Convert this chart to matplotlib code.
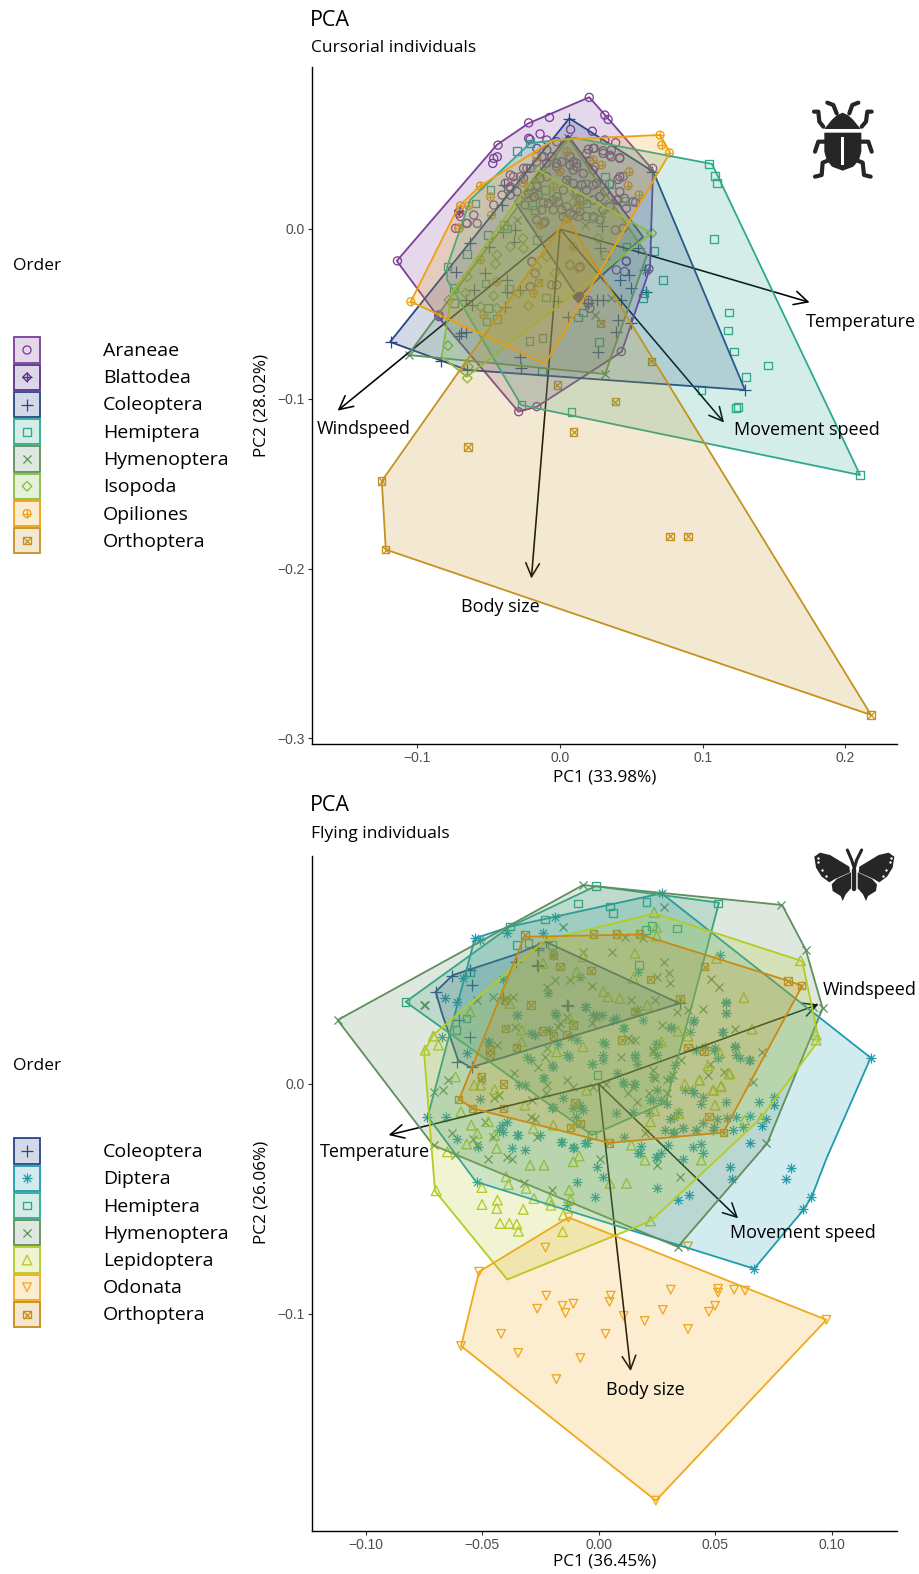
import numpy as np
import matplotlib
matplotlib.use("Agg")
import matplotlib.pyplot as plt
from matplotlib.patches import Polygon, Rectangle

TEXT_FONT = ["Open Sans", "DejaVu Sans"]
TICK_FONT = ["Liberation Sans", "DejaVu Sans"]
UNIT = 0.01  # all PC scores below are written in hundredths

# ---------- colours ----------
COL = {
    "Araneae": "#7B3F98", "Blattodea": "#55308D", "Coleoptera": "#27458A",
    "Hemiptera": "#2FA98C", "Hymenoptera": "#5E8F5E", "Isopoda": "#86BC43",
    "Opiliones": "#EFA00F", "Orthoptera": "#C4921F",
    "Diptera": "#1E9BAE", "Lepidoptera": "#B4CC22", "Odonata": "#F0A91C",
    "OrthopteraF": "#C98A14",
}

# ---------- CURSORIAL: hull vertices ----------
c_hull_araneae = [(2.05,7.76),(3.16,6.71),(6.52,3.47),(6.31,-2.30),(4.33,-7.23),(-1.63,-10.47),(-2.92,-10.76),(-8.56,-5.16),(-11.45,-1.88),(-4.44,4.95),(-2.22,6.22)]
c_hull_blattodea = [(0.56,5.50),(-3.16,1.59),(1.26,-4.06),(5.82,-0.47)]
c_hull_coleoptera = [(0.65,6.52),(6.54,3.37),(12.97,-9.48),(-6.54,-8.30),(-11.92,-6.65)]
c_hull_hemiptera = [(-2.10,5.05),(1.05,5.36),(10.66,3.83),(21.04,-14.49),(-2.73,-10.37),(-7.92,-3.00),(-7.92,-2.22),(-6.31,1.71)]
c_hull_hymenoptera = [(0.58,5.34),(6.10,-1.53),(3.16,-8.54),(-10.66,-7.42)]
c_hull_isopoda = [(-1.52,3.47),(6.43,-0.25),(-6.54,-8.70),(-8.30,-7.52),(-7.59,-3.77)]
c_hull_opiliones = [(7.01,5.54),(7.71,4.49),(-1.05,-7.95),(-10.47,-4.28),(-7.13,1.31),(-5.61,2.53),(-0.47,5.24)]
c_hull_orthoptera = [(0.47,0.63),(21.81,-28.62),(-12.22,-18.88),(-12.50,-14.84)]

# ---------- CURSORIAL: points ----------
c_araneae = [(2.05,7.75),(3.14,6.71),(3.37,6.45),(-.74,6.57),(-2.2,6.25),(-1.4,5.6),(-2.1,5.27),(-4.35,4.94),(-4.4,4.25),(-4.65,4.16),(-4.72,3.86),(.74,5.86),(2.26,5.76),(3.14,5.24),(3.9,5.08),(1.98,4.69),(2.4,4.75),(3.02,4.6),(3.6,4.25),(4.18,4.2),(6.5,3.57),(4.42,3.08),(4.07,2.92),(3.49,2.65),(2.33,2.59),(2.44,3.67),(1.16,3.67),(.7,3.76),(-.23,3.86),(-1.16,4.25),(-2.33,3.57),(-3.26,3.08),(-2.56,2.98),(-3.49,2.39),(-1.63,2.49),(-2.2,2.1),(-1.74,1.9),(-.81,1.51),(-.23,1.9),(.23,2.29),(1.16,2.2),(-.12,1.61),(.47,1.31),(-1.16,.33),(.93,.82),(1.4,1.02),(1.86,.73),(3.88,-.06),(4.42,.04),(5.3,1.57),(4.53,1.8),(3.95,1.7),(-5.81,.33),(-6.51,.33),(-7.33,.04),(-7.09,.04),(-7.1,.92),(-6.98,.73),(-11.4,-1.88),(-2.9,-10.76),(-1.63,-10.46),(4.3,-7.22),(6.23,-2.35),(4.65,-1.88),(3.95,-2.41),(1.4,-2.26),(-1.98,-1.92),(-2.09,-3.4),(1.98,-4.38),(1.35,-4.02),(-8.49,-5.16),(-.93,4.65),(-1.63,3.96),(-2.09,3.57),(-2.56,3.57),(-3.49,3.18),(-3.84,2.69),(-3.49,2.49),(-4.07,2.0),(-3.49,2.0),(-4.65,1.41),(-6.05,.82),(-6.56,.33),(-2.09,2.49),(-1.63,2.59),(-1.86,1.9),(-1.51,2.0),(-1.16,1.55),(-.81,1.51),(-.47,1.71),(.12,1.12),(.23,.73),(-1.05,.43),(-1.63,.53),(1.16,1.22),(1.86,4.45),(2.33,4.75),(3.02,4.45),(3.49,4.35),(4.19,4.16),(3.6,4.65),(2.09,3.96),(2.33,3.47),(2.56,2.69),(1.86,2.29),(1.63,3.27),(.93,3.96),(4.19,2.2),(4.19,3.08),(5.12,1.61),(3.14,2.2),
 (-2.2,5.34),(-.93,5.24),(-.23,5.14),(-1.63,4.75),(-1.28,4.26),(-.58,4.26),(-.93,3.87),(-.23,3.67),(.12,3.96),(.7,4.26),(1.16,3.87),(.93,3.47),(.47,2.88),(.93,2.69),(1.51,2.59),(1.63,1.71),(2.33,1.71),(2.79,1.9),(3.49,1.31),(3.02,1.12),(4.65,1.22),(4.07,1.71),(2.33,.73),(2.79,.53),(-.93,3.08),(-1.4,2.98),(-2.79,3.08),(-3.14,2.69),(-3.02,2.2),(-2.44,2.0),(-2.44,1.41),(-1.28,1.12),(-.47,1.12),(.7,.92),(1.28,.73),(1.4,1.71),
 (-1.74,-2.61),(-2.09,-3.39),(-.58,-3.29),(-.23,-3.29),(.7,-2.12),(1.4,-2.21),(-1.98,-1.92),(1.98,-4.2),(2.09,-4.67),(4.65,-1.92),(4.53,-2.51),(-8.49,-5.06)]
c_blattodea = [(-7.09,1.08),(1.26,-4.06),(1.4,-3.95),(1.15,-3.9)]
c_coleoptera = [(.65,6.45),(6.46,3.37),(-11.86,-6.63),(-8.37,-7.8),(-6.51,-8.29),(-3.95,2.59),(-4.07,1.41),(-6.28,-.84),(-5.0,-1.08),(-4,-.16),(-3.14,-.06),(-3.26,-.75),(-7.33,-2.51),(-5.23,-2.61),(-3.72,-3.0),(-6.05,-3.59),(-6.63,-4.18),(-6.16,-4.47),(-3.84,-4.57),(-3.72,-3.69),(-2.79,-3.59),(-6.98,-6.14),(-6.63,-6.04),(-7.09,-6.33),(-2.79,-7.51),(-2.74,-8.2),(-.12,-4.27),(.58,-5.16),(1.98,-4.37),(2.56,-4.18),(3.02,-4.18),(4.3,-4.18),(4.19,-3.0),(4.84,-2.71),(5,-3.49),(6.05,-3.69),(4.07,-5.35),(3.95,-6.04),(5,-5.55),(2.63,-7.22),(2.91,.2),(2.79,-1.14),(5.47,-1.14),(5.93,-2.41),(12.97,-9.48)]
c_hemiptera = [(-2.1,5.04),(-3.02,4.6),(-4.88,2.29),(-5.93,1.51),(1.74,2.69),(3.14,3.08),(3.6,2.65),(-1.05,2.29),(1.86,1.51),(2.33,.63),(-1.74,1.12),(-1.98,1.41),(-3.95,.24),(-3.72,.04),(-5.05,-.35),(-6.51,-1.49),(-1.63,-.65),(-7.9,-2.22),(-5.23,-3.2),(-7.44,-3.49),(-7.44,-4.37),(-3.6,-3.55),(-.98,-4.04),(-5.07,-4.67),(-5.16,-5.45),(-4.42,-5.31),(-2.14,-6.59),(-1.23,-6.43),(2.72,-6.67),(1.63,-4.92),(1.28,-5.22),(3.14,-1.53),(4.65,-1.04),(6.63,-1.29),(7.21,-3.0),(5.81,-4.08),(5.93,-3.79),(4.49,1.65),(-1.28,-8.4),(-2.69,-10.37),(.81,-10.76),(9.93,-9.48),(10.45,3.83),(10.87,3.12),(11.0,2.71),(10.8,-.59),(13.04,-8.72),(14.59,-8.04),(12.48,-10.48),(12.34,-10.54),(12.2,-7.21),(11.85,-4.91),(11.78,-5.97),(21.04,-14.49)]
c_hymenoptera = [(.58,5.33),(-3.02,.53),(1.74,.24),(3.6,-4.08),(2.44,-5.06),(-10.58,-7.41),(3.14,-8.53),(6.05,-2.41),(2.9,.92),(3,1.5),(.47,2.9),(.93,1.9)]
c_isopoda = [(-1.51,3.47),(6.43,-.25),(-6.51,-8.78),(-7.86,-6.87),(-7.79,-4.18),(-2.6,-.55),(-3.49,-1.04),(-4.42,-1.53),(-4.53,-2.06),(-2.56,-1.14),(-6.51,-2.81),(-6.63,-3.79),(-4.65,-3.94),(-5.58,-4.57),(-4.42,-4.67),(-2.91,-3.79),(-2.21,-4.53),(.7,-2.12),(1.28,-2.32),(-.93,-1.63),(-.35,-2.61),(-1.63,-2.22),(2.67,-.55),(-6.43,-8.11)]
c_opiliones = [(7.01,5.53),(7.13,4.94),(7.67,4.49),(-10.47,-4.28),(-6.98,1.37),(-6.4,1.37),(-5.58,2.53),(-4.81,.82),(-7.09,.04),(-4.88,1.9),(-1.63,4.25),(4.84,3.37),(4.77,2.55),(5.53,2.0),(2.91,3.77),(0,3.37),(1.28,1.51),(-.47,2.49),(-2.56,2.69),(.47,4.55),(2.33,4.06),(-5.58,-1.82),(-4.42,-3.1),(-5.35,-5.06),(-1.86,-3.78),(-1.4,.24),(.93,-1.04)]
c_orthoptera = [(-1.51,-3.14),(2.84,-5.55),(-.19,-9.18),(3.88,-10.17),(6.4,-7.8),(.95,-11.95),(-6.45,-12.84),(7.71,-18.1),(8.98,-18.1),(-12.5,-14.84),(-12.22,-18.88),(21.81,-28.62),(.47,.63)]

# ---------- FLYING: hull vertices ----------
f_hull_coleoptera = [(-6.99,4.0),(-6.26,4.72),(-3.65,5.59),(-2.27,6.17),(3.48,3.49),(-5.49,.71),(-6.03,1.03),(-6.72,3.06)]
f_hull_diptera = [(2.71,8.28),(11.68,1.13),(9.79,-3.23),(9.15,-4.91),(8.79,-5.49),(6.68,-8.04),(-5.26,-4.26),(-7.33,-1.43),(-5.31,6.32),(-3.8,6.83)]
f_hull_hemiptera = [(-.12,8.59),(5.17,7.87),(2.9,-.8),(-.28,-2.23),(-8.28,3.56),(-3.8,6.83)]
f_hull_hymenoptera = [(-.66,8.64),(7.88,7.77),(8.9,5.81),(9.62,3.28),(7.24,-2.59),(3.4,-7.09),(-7.1,-2.67),(-11.2,2.77)]
f_hull_lepidoptera = [(2.41,7.41),(8.74,5.33),(9.46,1.9),(6.96,-1.51),(2.25,-5.96),(-3.92,-8.51),(-7.02,-4.66),(-7.49,1.4),(-7.1,2.12),(-2.27,6.25)]
f_hull_odonata = [(-1.29,-5.81),(9.78,-10.26),(2.46,-18.12),(-5.9,-11.4),(-5.13,-8.17)]
f_hull_orthoptera = [(-3.19,6.39),(1.79,6.49),(8.19,4.46),(8.74,4.26),(5.35,-2.12),(.46,-2.57),(-5.41,-1.07),(-5.98,-.67)]

# ---------- FLYING: points ----------
f_coleoptera = [(-6.97,4.0),(-6.3,4.68),(-5.44,4.29),(-5.51,4.94),(-5.97,2.77),(-5.51,2.04),(-6.06,.96),(-3.54,5.3),(-2.63,5.16),(-2.59,5.81),(-1.33,3.38),(-4.09,3.71),(-2.26,6.17),(-5.44,.74),(3.48,3.49),(-2.58,5.88),(-2.58,5.12),(-1.35,3.42)]
f_diptera = [(-5.3,6.32),(-5.09,6.25),(-3.94,6.54),(-1.87,7.26),(-2.37,6.54),(-5.8,4.58),(-6.09,3.57),(-6.59,3.71),(-6.73,2.04),(-5.66,1.32),(-4.11,4.54),(-1.94,5.59),(-2.16,3.93),(-.8,4.65),(-.54,3.35),(-3.51,2.99),(-1.87,3.06),(-.23,2.99),(.13,2.99),(.77,2.84),(-2.74,2.12),(-4.73,1.83),(-1.73,1.75),(-.94,1.9),(-1.37,1.25),(.27,1.75),(-2.0,.81),(-3.09,1.17),(-.3,.88),(.2,1.25),
 (5.2,5.59),(5.49,3.57),(5.46,3.09),(1.7,4.87),(1.63,3.2),(1.89,2.77),(4.06,2.7),(3.94,2.26),(3.13,2.41),(1.06,2.41),(5.34,2.26),(5.84,1.65),(4.99,1.54),(5.13,1.1),(5.91,1.25),(6.49,1.03),(1.56,1.25),(2.56,1.75),(3.27,.81),(2.49,1.25),(4.56,1.61),(4.2,1.46),
 (-7.37,-1.43),(-6.54,-1.43),(-6.09,-2.41),(-5.16,-2.74),(-5.23,-4.26),(-4.16,-1.8),(-4.11,-2.09),(-3.91,-1.65),(-3.47,-2.23),(-3.73,-2.81),(-3.17,-2.88),(-3.16,-.06),(-5.1,-.68),(-2.37,.23),(-1.51,-.64),(-1.09,-1.07),(-.66,-1.14),(-1.59,-2.52),(-1.11,-2.81),(-.51,-2.59),(-.94,-4.26),(-.16,-4.91),(-1.37,-5.28),(.17,-4.04),(-.06,-3.61),(-2.01,-1.07),(-.8,-.93),(.77,-1.29),(-2.51,-2.23),
 (2.49,-4.51),(1.84,-2.71),(1.7,-3.03),(2.49,-3.2),(2.66,-3.03),(2.99,-2.67),(3.63,-3.29),(4.06,-2.77),(4.41,-2.62),(4.49,-3.03),(3.41,-5.06),(3.89,-4.84),(5.63,-3.61),(5.74,-4.12),(6.49,-2.59),(7.03,-1.84),(7.17,-1.51),(6.49,-1.41),(6.89,-.81),(7.53,-.59),(7.53,-.93),(5.77,-2.01),(6.2,-1.9),(5.91,-1.43),(5.53,-1.48),(5.09,-1.51),(8.27,-3.65),(8.06,-4.14),(9.13,-4.91),(8.77,-5.46),(4.91,-1.99),(4.17,-1.99),(3.63,-1.94),(3.2,-2.13),(2.87,-1.99),(3.06,-1.51),(3.41,-1.22),(4.49,-.57),(4.41,-.86),(5.49,-.78),(3.99,-.28),(3.06,.23),(2.49,-.28),(2.2,-.71),(2.7,-.71),(1.53,.01),(1.06,.09),(2.34,.3),(1.49,-1.22),(11.68,1.13),(6.68,-8.04),(2.71,8.28),
 (1.56,1.17),(1.64,.88),(.8,.45),(.18,1.03),(-.28,.88),(-1.27,1.17),(-1.96,.74),(-2.35,.23),(-2.88,1.03),(-3.42,-.06),(-4.26,-2.01),(-3.5,-2.23),(-1.58,-2.52),(-1.04,-2.74),(-.58,-2.59),(-1.96,-1.0),(-.74,-1.07),(-.97,-1.43),(1.1,-2.3),(1.79,-3.03),(2.48,-3.17),(3.25,-2.09),(3.63,-1.94),(4.17,-2.01),(4.48,-1.72),(4.94,-1.87),(3.71,-.28),(4.1,-.42),(2.94,-.86),(3.25,-1.43),(2.33,-.71),(2.18,-1.29),(1.56,.01),(1.1,.01),(2.48,1.75),(3.1,2.48),(4.1,2.77),(5.32,2.26),(5.47,3.49),(5.47,3.06),(4.94,1.46),(5.86,1.61),(6.47,1.03),(6.09,1.1),(-2.12,2.33),(-1.81,2.99),(-1.2,2.04),(-.58,3.35),(-.12,2.99),(.64,2.77),(1.1,2.41),(.18,1.83),(-3.5,2.99),(-2.88,2.19),(-4.72,1.83)]
f_hemiptera = [(-.87,7.84),(.49,7.7),(.63,7.41),(-2.3,7.14),(-3.8,6.83),(-3.51,6.03),(-3.01,6.13),(-2.01,6.03),(-5.51,4.87),(-5.66,2.84),(-6.09,2.33),(2.06,7.91),(5.13,7.84),(3.37,6.75),(2.03,6.68),(2.3,6.86),(1.74,5.16),(-8.28,3.56),(-.12,8.59),(-.28,-2.23),(-.05,.38)]
f_hymenoptera = [(-7.44,3.42),(-5.23,3.64),(-4.51,3.78),(-3.69,3.78),(-4.01,3.64),(-3.59,2.48),(-4.37,1.68),(-1.87,4.51),(-2.23,4.22),(-1.23,4.51),(-.66,5.74),(-.26,4.26),(.56,5.71),(-1.51,6.83),(-1.66,2.62),(-1.37,2.91),(-1.73,2.48),(-2.23,1.54),(-2.3,1.17),(-.3,2.62),(-.09,2.91),
 (7.84,7.77),(8.89,5.81),(2.81,7.7),(1.13,6.39),(1.91,6.32),(2.81,5.3),(3.03,4.8),(2.49,4.65),(3.06,4.36),(4.84,4.55),(5.17,4.19),(4.49,3.23),(5.84,2.36),(1.41,3.64),(2.41,3.64),(3.37,3.1),(3.84,3.2),(2.74,2.55),(1.27,1.97),(1.56,1.9),(2.34,1.39),(7.0,1.39),(9.2,3.35),
 (-7.06,-2.67),(-7.06,-.35),(-6.66,-.28),(-6.44,.16),(-6.3,-2.16),(-5.37,-2.38),(-5.23,-2.67),(-4.73,-3.25),(-3.94,-3.17),(-3.73,-3.25),(-6.16,-3.1),(-4.89,-1.65),(-4.53,-2.3),(-3.2,-4.33),(-2.01,-4.62),(.06,-3.25),(-2.73,-1.51),(-2.87,-.71),(-2.23,-.06),(-1.09,-.13),(-.23,-.13),(.34,.01),(-4.26,-.49),(-2.66,-2.3),
 (7.2,-2.59),(3.49,-4.07),(2.49,-3.54),(6.63,.09),(2.41,.23),(1.27,-.42),(1.63,-.78),(1.99,-2.16),(4.7,.37),(9.62,3.28),(-11.2,2.77),(-.66,8.64),(3.4,-7.09),(-7.48,3.42),
 (2.33,.59),(2.94,.16),(3.56,1.03),(4.79,.88),(5.4,.52),(-2.58,.74),(-3.65,.45),(-5.03,.16),(-4.49,-.64),(-2.88,-1.43),(-2.27,-.42),(-1.35,.16),(.95,1.17),(1.41,1.9),(2.33,1.46),(1.49,-.13),(2.18,-.42),(2.94,-.42),(3.18,.38)]
f_lepidoptera = [(-2.37,5.23),(-.94,4.87),(-.66,5.52),(.2,4.0),(.41,3.78),(-3.8,3.49),(-3.3,2.33),(-1.23,2.84),(-5.51,3.13),(-6.87,1.68),(-7.09,2.07),(-7.44,1.46),(-.66,1.61),(-1.8,1.39),(-3.3,1.83),
 (2.39,7.45),(2.49,6.8),(2.49,6.42),(1.49,4.58),(2.09,3.42),(1.56,5.67),(5.06,5.45),(6.23,3.74),(8.67,5.35),(6.59,2.38),(3.84,2.07),(3.41,2.29),(2.7,1.83),(5.2,1.35),(4.7,.78),(.91,3.71),(9.34,2.12),(9.34,1.9),
 (-6.14,.3),(-5.06,-.06),(-5.34,-.06),(-4.46,-.25),(-5.91,-1.22),(-5.46,-1.8),(-5.2,-2.16),(-5.66,-2.62),(-4.37,-2.81),(-4.73,-1.65),(-4.46,-2.23),(-2.94,-3.54),(-2.34,-3.54),(-6.49,-2.96),(-6.97,-4.65),(-3.97,-4.04),(-3.87,-4.38),(-3.11,-4.55),(-2.77,-4.99),(-2.09,-5.06),(-2.04,-5.28),(-1.2,-5.03),(-1.26,-4.62),(-1.09,-3.39),(-.83,-3.14),(.49,-4.33),(-5.01,-4.51),(-4.34,-5.06),(-4.37,-5.42),(-5.0,-5.25),(-3.23,-5.46),(-4.23,-6.07),(-3.83,-6.07),(-3.51,-6.1),(-3.44,-6.41),(-1.51,-5.71),(-1.54,-6.43),(-3.16,-.93),(-2.8,-1.94),(-1.94,-1.8),(-.51,-.28),
 (2.41,-1.17),(2.23,-1.65),(1.99,-3.32),(1.2,-4.33),(1.41,-2.67),(4.41,-3.32),(5.0,-.93),(4.91,-.28),(5.27,-.1),(5.6,.42),(6.27,-1.58),(6.99,-1.51),(2.23,-5.96),(3.46,-1.29),(4.34,.16),(3.7,-.01),(5.63,.45),(5.25,-.13),(4.94,-.28),(4.33,.16)]
f_odonata = [(-1.29,-5.81),(9.78,-10.26),(2.46,-18.12),(-5.9,-11.4),(-5.13,-8.17),(-4.18,-10.87),(-3.45,-11.7),(-2.63,-9.78),(-2.24,-9.21),(-1.55,-9.65),(-1.42,-9.96),(-1.08,-9.56),(-.78,-11.92),(-1.81,-12.84),(-2.28,-7.12),(.52,-9.21),(.47,-9.48),(.3,-10.87),(1.98,-10.31),(2.76,-9.83),(3.1,-8.95),(3.84,-10.66),(4.74,-9.91),(5.0,-9.65),(5.13,-8.91),(5.13,-9.08),(5.82,-8.95),(6.29,-8.99),(1.08,-10.09),(3.84,-7.07)]
f_orthoptera = [(-3.16,6.46),(-.23,6.51),(.77,6.51),(-1.66,5.09),(-.33,4.91),(-2.9,3.42),(-4.01,3.64),(-3.99,2.41),(-2.4,2.3),(-1.94,2.07),(-1.09,2.55),(-1.37,2.14),(-3.51,1.58),(-4.66,1.46),(-4.66,1.25),(-1.94,5.59),(1.77,6.51),(4.56,5.09),(2.23,4.54),(3.49,3.71),(1.56,3.13),(3.84,1.57),(4.53,1.39),(8.13,4.46),(8.7,4.26),(.99,1.9),(-6.01,-.68),(-5.41,-1.07),(-4.09,-.01),(-4.09,-1.07),(-1.19,-1.9),(-.8,-1.72),(-1.01,-.83),(.46,-2.57),(-5.01,.3),(4.74,-1.43),(5.37,-2.13)]

# ---------- loadings (arrow tips) and labels ----------
c_arrow_names = ["Temperature", "Windspeed", "Movement speed", "Body size"]
c_arrow_x = [.175, -.156, .115, -.0201]
c_arrow_y = [-.0432, -.107, -.114, -.2058]
c_label_x = [.211, -.1377, .1729, -.0421]
c_label_y = [-.0545, -.1178, -.1184, -.2224]

f_arrow_names = ["Windspeed", "Temperature", "Movement speed", "Body size"]
f_arrow_x = [.0944, -.0901, .0599, .0138]
f_arrow_y = [.0345, -.0223, -.0585, -.1249]
f_label_x = [.1164, -.0961, .0875, .0203]
f_label_y = [.0406, -.0297, -.065, -.1331]

# ---------- marker styles ----------
MARK = {
    "Araneae": [("o", 34)], "Blattodea": [("D", 19), ("+", 44)], "Coleoptera": [("+", 70)],
    "Hemiptera": [("s", 30)], "Hymenoptera": [("x", 34)], "Isopoda": [("D", 24)],
    "Opiliones": [("o", 32), ("+", 28)], "Orthoptera": [("s", 28), ("x", 24)],
    "Diptera": [("+", 52), ("x", 28)], "Lepidoptera": [("^", 48)], "Odonata": [("v", 38)],
}
MARK["OrthopteraF"] = MARK["Orthoptera"]

W, H = 919, 1574
fig = plt.figure(figsize=(W/100, H/100), dpi=100, facecolor="white")


def make_axes(left, right, top, bottom, xlim, ylim):
    ax = fig.add_axes([left/W, 1-bottom/H, (right-left)/W, (bottom-top)/H])
    ax.set_xlim(*xlim)
    ax.set_ylim(*ylim)
    ax.spines[["top", "right"]].set_visible(False)
    for s in ["left", "bottom"]:
        ax.spines[s].set_linewidth(1.0)
        ax.spines[s].set_color("black")
    ax.tick_params(length=3, width=0.8, color="#333333", labelsize=10, labelcolor="#4D4D4D", pad=2)
    return ax


def draw_group(ax, name, pts, hull, z, color=None, fill_alpha=0.2):
    col = color or COL[name]
    a = np.array(pts) * UNIT
    for m, s in MARK[name]:
        if m in "+x":
            ax.scatter(a[:, 0], a[:, 1], marker=m, s=s, color=col, linewidths=0.9, zorder=2)
        else:
            ax.scatter(a[:, 0], a[:, 1], marker=m, s=s, facecolors="none", edgecolors=col, linewidths=0.95, zorder=2)
    h = np.array(hull) * UNIT
    ax.add_patch(Polygon(h, closed=True, facecolor=col, alpha=fill_alpha, edgecolor="none", zorder=z))
    ax.add_patch(Polygon(h, closed=True, facecolor="none", edgecolor=col, linewidth=1.3, zorder=z+0.01, joinstyle="round"))


def draw_arrows(ax, xs, ys, names, lx, ly):
    for x, y, n, a, b in zip(xs, ys, names, lx, ly):
        ax.annotate("", xy=(x, y), xytext=(0, 0), annotation_clip=False, zorder=2.5,
                    arrowprops=dict(arrowstyle="->,head_length=0.75,head_width=0.38", mutation_scale=13,
                                    lw=1.15, color="black", shrinkA=0, shrinkB=0))
        ax.text(a, b, n, ha="center", va="center", fontsize=13, family=TEXT_FONT, color="black", zorder=20)


# ---------- top panel ----------
ax1 = make_axes(311.5, 897, 67, 744, (-.1743, .2363), (-.3033, .0954))
ax1.set_xticks([-.1, 0, .1, .2], ["\u22120.1", "0.0", "0.1", "0.2"], family=TICK_FONT)
ax1.set_yticks([0, -.1, -.2, -.3], ["0.0", "\u22120.1", "\u22120.2", "\u22120.3"], family=TICK_FONT)
c_groups = [("Araneae", c_araneae, c_hull_araneae), ("Blattodea", c_blattodea, c_hull_blattodea),
            ("Coleoptera", c_coleoptera, c_hull_coleoptera), ("Hemiptera", c_hemiptera, c_hull_hemiptera),
            ("Hymenoptera", c_hymenoptera, c_hull_hymenoptera), ("Isopoda", c_isopoda, c_hull_isopoda),
            ("Opiliones", c_opiliones, c_hull_opiliones), ("Orthoptera", c_orthoptera, c_hull_orthoptera)]
for i, (n, p, h) in enumerate(c_groups):
    draw_group(ax1, n, p, h, 3 + i*0.1)
draw_arrows(ax1, c_arrow_x, c_arrow_y, c_arrow_names, c_label_x, c_label_y)

# ---------- bottom panel ----------
ax2 = make_axes(311.5, 897, 856, 1531, (-.1232, .1281), (-.1944, .0990))
ax2.set_xticks([-.1, -.05, 0, .05, .1], ["\u22120.10", "\u22120.05", "0.00", "0.05", "0.10"], family=TICK_FONT)
ax2.set_yticks([0, -.1], ["0.0", "\u22120.1"], family=TICK_FONT)
f_groups = [("Coleoptera", f_coleoptera, f_hull_coleoptera), ("Diptera", f_diptera, f_hull_diptera),
            ("Hemiptera", f_hemiptera, f_hull_hemiptera), ("Hymenoptera", f_hymenoptera, f_hull_hymenoptera),
            ("Lepidoptera", f_lepidoptera, f_hull_lepidoptera), ("Odonata", f_odonata, f_hull_odonata),
            ("OrthopteraF", f_orthoptera, f_hull_orthoptera)]
for i, (n, p, h) in enumerate(f_groups):
    draw_group(ax2, n, p, h, 3 + i*0.1)
draw_arrows(ax2, f_arrow_x, f_arrow_y, f_arrow_names, f_label_x, f_label_y)

# ---------- overlay: titles, axis labels, legends, icons (figure pixel space) ----------
ov = fig.add_axes([0, 0, 1, 1], zorder=30)
ov.set_xlim(0, W)
ov.set_ylim(H, 0)
ov.axis("off")
ov.patch.set_alpha(0)


def txt(x, y, s, size=13, ha="left", va="center", rot=0):
    ov.text(x, y, s, fontsize=size, ha=ha, va=va, rotation=rot, family=TEXT_FONT, color="black")


txt(310, 20.5, "PCA", 15.5)
txt(311, 48, "Cursorial individuals", 12.5)
txt(310, 805.5, "PCA", 15.5)
txt(311, 834, "Flying individuals", 12.5)
txt(605, 777.5, "PC1 (33.98%)", 12.3, ha="center")
txt(605, 1562, "PC1 (36.45%)", 12.3, ha="center")
txt(261, 405, "PC2 (28.02%)", 12.3, ha="center", rot=90)
txt(261, 1192, "PC2 (26.06%)", 12.3, ha="center", rot=90)


def legend(y_title, y_first, names, keys):
    txt(13, y_title, "Order", 12.5)
    for i, (n, k) in enumerate(zip(names, keys)):
        yc = y_first + i*27.25
        col = COL[k]
        ov.add_patch(Rectangle((14, yc-12.7), 25.5, 25.4, facecolor=col, alpha=0.2, edgecolor="none"))
        ov.add_patch(Rectangle((14, yc-12.7), 25.5, 25.4, facecolor="none", edgecolor=col, lw=1.3))
        for m, s in MARK[k]:
            if m in "+x":
                ov.scatter([27], [yc], marker=m, s=s, color=col, linewidths=0.9)
            else:
                ov.scatter([27], [yc], marker=m, s=s, facecolors="none", edgecolors=col, linewidths=0.95)
        txt(103, yc+1, n, 14)


c_names = ["Araneae", "Blattodea", "Coleoptera", "Hemiptera", "Hymenoptera", "Isopoda", "Opiliones", "Orthoptera"]
f_names = ["Coleoptera", "Diptera", "Hemiptera", "Hymenoptera", "Lepidoptera", "Odonata", "Orthoptera"]
legend(266, 350, c_names, c_names)
legend(1066.5, 1151, f_names, ["Coleoptera", "Diptera", "Hemiptera", "Hymenoptera", "Lepidoptera", "Odonata", "OrthopteraF"])

# beetle icon
ICON = "#262626"


def ipoly(ox, oy, pts, fc=ICON):
    p = np.array(pts, float)/3 + [ox, oy]
    ov.add_patch(Polygon(p, closed=True, facecolor=fc, edgecolor="none"))


def iline(ox, oy, pts, lw=3.0, c=ICON):
    p = np.array(pts, float)/3 + [ox, oy]
    ov.plot(p[:, 0], p[:, 1], color=c, lw=lw, solid_capstyle="round", solid_joinstyle="round")


bx, by = 790, 90
ipoly(bx, by, [(103,117),(125,90),(140,76),(158,68),(175,76),(190,90),(212,117)])
ipoly(bx, by, [(103,128),(214,128),(214,185),(207,210),(190,230),(158,242),(126,230),(110,210),(103,185)])
ipoly(bx, by, [(152,140),(163,140),(163,226),(152,226)], fc="white")
for leg in ([(140,70),(130,45),(112,38)], [(178,70),(187,45),(205,38)],
            [(100,110),(88,95),(85,65),(72,65)], [(215,110),(228,95),(232,65),(245,65)],
            [(105,155),(85,155),(75,185)], [(212,155),(235,155),(245,185)],
            [(118,210),(98,218),(95,255),(75,260)], [(198,210),(218,218),(222,255),(242,260)]):
    iline(bx, by, leg, lw=3.0)

# butterfly icon
fx, fy = 790, 835
wing_u = [(73,65),(90,53),(120,60),(178,95),(180,112),(135,132),(118,142),(95,125),(78,98)]
wing_l = [(183,112),(183,160),(167,178),(158,198),(152,183),(128,168),(125,148),(140,132)]
for wing in (wing_u, wing_l):
    ipoly(fx, fy, wing)
    ipoly(fx, fy, [(386-x, y) for x, y in wing])
iline(fx, fy, [(193,105),(193,162)], lw=3.2)
iline(fx, fy, [(172,45),(185,75),(193,100),(200,75),(215,45)], lw=2.2)
for sx, sy in [(83,68),(85,82),(97,105),(108,122)]:
    ov.scatter([fx+sx/3, fx+(386-sx)/3], [fy+sy/3, fy+sy/3], s=3, color="white", linewidths=0)

fig.savefig("out.png", dpi=100)
